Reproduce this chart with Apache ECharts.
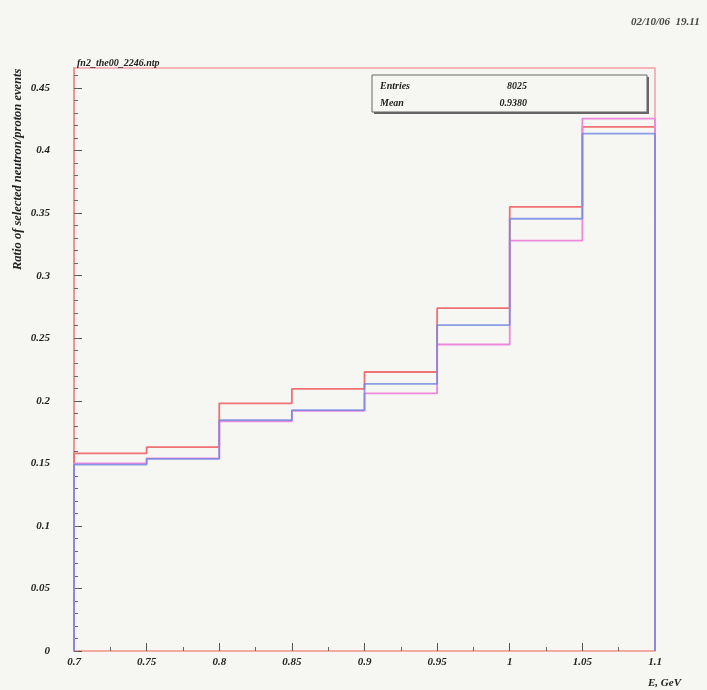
<!DOCTYPE html>
<html>
<head>
<meta charset="utf-8">
<script src="https://cdn.jsdelivr.net/npm/echarts@6/dist/echarts.min.js"></script>
<style>
html,body{margin:0;padding:0;background:#f6f6f3;}
#c{width:707px;height:690px;}
</style>
</head>
<body>
<div id="c"></div>
<script>
// Bin edges (E, GeV)
var binEdges = [0.7, 0.75, 0.8, 0.85, 0.9, 0.95, 1.0, 1.05, 1.1];
// Histogram contents (ratio of selected neutron/proton events)
var redValues  = [0.158, 0.163, 0.198, 0.2095, 0.223, 0.274, 0.355, 0.419];
var pinkValues = [0.150, 0.154, 0.1835, 0.192, 0.206, 0.245, 0.328, 0.4255];
var blueValues = [0.149, 0.1535, 0.1845, 0.1925, 0.2135, 0.2605, 0.3455, 0.4135];
// Tick labels
var xTicks = [0.7, 0.75, 0.8, 0.85, 0.9, 0.95, 1, 1.05, 1.1];
var yTicks = [0, 0.05, 0.1, 0.15, 0.2, 0.25, 0.3, 0.35, 0.4, 0.45];
var yMax = 0.466;
var statsRows = [["Entries", "8025"], ["Mean", "0.9380"]];

function histPoints(vals) {
  var pts = [[binEdges[0], 0]];
  for (var i = 0; i < vals.length; i++) {
    pts.push([binEdges[i], vals[i]]);
    pts.push([binEdges[i + 1], vals[i]]);
  }
  pts.push([binEdges[binEdges.length - 1], 0]);
  return pts;
}
var xMinor = [], yMinor = [];
for (var i = 0; i < xTicks.length - 1; i++) xMinor.push(+((xTicks[i] + xTicks[i + 1]) / 2).toFixed(4));
for (var k = 0; k <= 46; k++) yMinor.push(+(k * 0.01).toFixed(3));

var FF = 'Liberation Serif';
var font = {fontFamily: FF, fontStyle: 'italic', fontWeight: 'bold', color: '#222'};
var chart = echarts.init(document.getElementById('c'), null, {renderer: 'canvas'});
var grid = {left: 74, right: 52, top: 68, bottom: 39, show: true, borderColor: '#f2a0a6', borderWidth: 1.5, backgroundColor: 'transparent'};

function lbl(extra) { return Object.assign({}, font, {fontSize: 11}, extra || {}); }
function txt(s, x, y, size, align, extra) {
  return Object.assign({type: 'text', x: x, y: y, z: 12,
    style: {text: s, fontSize: size, textAlign: align, textVerticalAlign: 'middle', fill: '#222',
            fontFamily: FF, fontStyle: 'italic', fontWeight: 'bold'}}, extra || {});
}

chart.setOption({
  backgroundColor: '#f6f6f3',
  animation: false,
  grid: grid,
  title: [
    {text: 'fn2_the00_2246.ntp', left: 72, top: 53, textStyle: Object.assign({}, font, {fontSize: 10})},
    {text: '02/10/06  19.11', left: 626, top: 12, textStyle: Object.assign({}, font, {fontSize: 11, color: '#444'})}
  ],
  xAxis: [{
    type: 'value', min: 0.7, max: 1.1,
    axisLine: {show: true, onZero: false, lineStyle: {color: '#f2a898', width: 1.5}},
    axisTick: {show: true, inside: true, length: 8, customValues: xTicks, lineStyle: {color: '#555'}},
    axisLabel: lbl({margin: 6, customValues: xTicks, formatter: function (v) { return String(+v.toFixed(2)); }}),
    splitLine: {show: false}
  }, {
    type: 'value', min: 0.7, max: 1.1, position: 'bottom',
    axisLine: {show: false},
    axisTick: {show: true, inside: true, length: 4, customValues: xMinor, lineStyle: {color: '#666'}},
    axisLabel: {show: false},
    splitLine: {show: false}
  }],
  yAxis: [{
    type: 'value', min: 0, max: yMax,
    axisLine: {show: true, onZero: false, lineStyle: {color: '#ee8a8a', width: 1.5}},
    axisTick: {show: true, inside: true, length: 8, customValues: yTicks, lineStyle: {color: '#555'}},
    axisLabel: lbl({margin: 24, align: 'right', customValues: yTicks, formatter: function (v) { return String(+v.toFixed(2)); }}),
    splitLine: {show: false}
  }, {
    type: 'value', min: 0, max: yMax, position: 'left',
    axisLine: {show: false},
    axisTick: {show: true, inside: true, length: 4, customValues: yMinor, lineStyle: {color: '#666'}},
    axisLabel: {show: false},
    splitLine: {show: false}
  }],
  series: [
    {type: 'line', data: histPoints(redValues), symbol: 'none', lineStyle: {color: '#ef7272', width: 1.8}, z: 3},
    {type: 'line', data: histPoints(pinkValues), symbol: 'none', lineStyle: {color: '#ee88dc', width: 1.8}, z: 4},
    {type: 'line', data: histPoints(blueValues), symbol: 'none', lineStyle: {color: '#6f86e2', width: 1.8, opacity: 0.8}, z: 5}
  ],
  graphic: [
    {type: 'rect', shape: {x: 374, y: 77, width: 275, height: 37}, style: {fill: '#666'}, z: 10},
    {type: 'rect', shape: {x: 372, y: 75, width: 275, height: 37}, style: {fill: '#f6f6f3', stroke: '#666', lineWidth: 1}, z: 11},
    txt(statsRows[0][0], 380, 86, 10, 'left'),
    txt(statsRows[0][1], 527, 86, 10, 'right'),
    txt(statsRows[1][0], 380, 103, 10, 'left'),
    txt(statsRows[1][1], 527, 103, 10, 'right'),
    txt('Ratio of selected neutron/proton events', 18, 270, 12.5, 'left', {rotation: Math.PI / 2}),
    txt('E, GeV', 681, 683, 11, 'right')
  ]
});
</script>
</body>
</html>
